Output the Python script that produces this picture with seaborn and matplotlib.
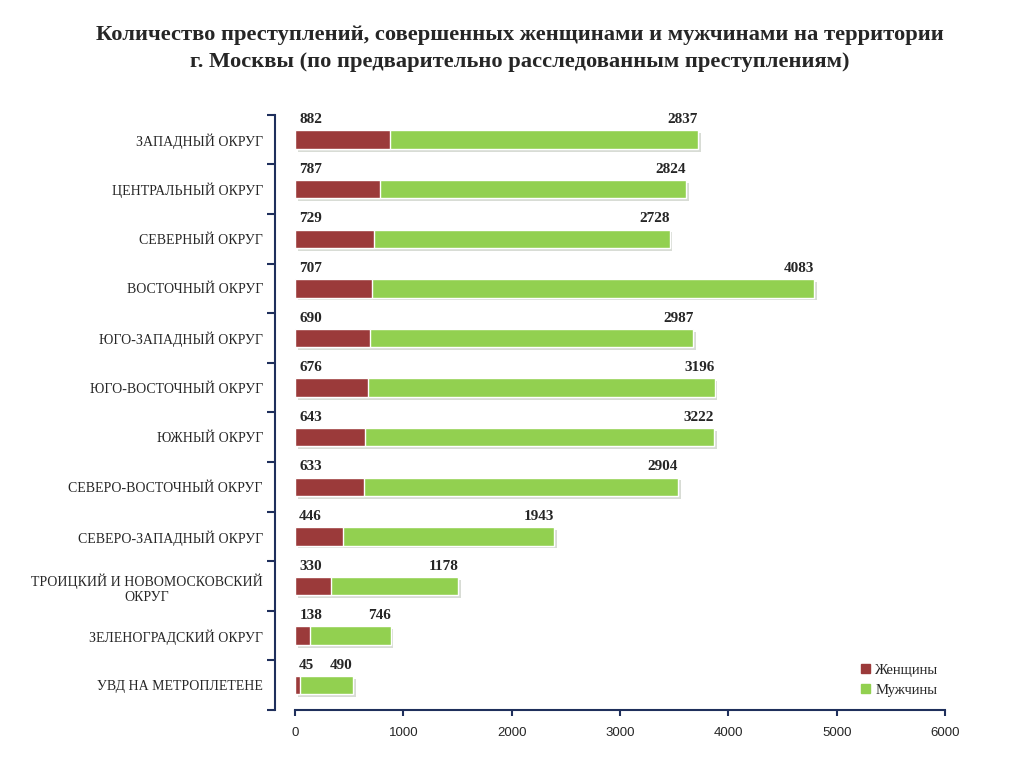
import pandas as pd
import numpy as np
import matplotlib.pyplot as plt
import matplotlib.patheffects as pe
from matplotlib.patches import Patch
import seaborn as sns

districts = [
    "ЗАПАДНЫЙ ОКРУГ",
    "ЦЕНТРАЛЬНЫЙ ОКРУГ",
    "СЕВЕРНЫЙ ОКРУГ",
    "ВОСТОЧНЫЙ ОКРУГ",
    "ЮГО-ЗАПАДНЫЙ ОКРУГ",
    "ЮГО-ВОСТОЧНЫЙ ОКРУГ",
    "ЮЖНЫЙ ОКРУГ",
    "СЕВЕРО-ВОСТОЧНЫЙ ОКРУГ",
    "СЕВЕРО-ЗАПАДНЫЙ ОКРУГ",
    "ТРОИЦКИЙ И НОВОМОСКОВСКИЙ\nОКРУГ",
    "ЗЕЛЕНОГРАДСКИЙ ОКРУГ",
    "УВД НА МЕТРОПЛЕТЕНЕ",
]
women = [882, 787, 729, 707, 690, 676, 643, 633, 446, 330, 138, 45]
men = [2837, 2824, 2728, 4083, 2987, 3196, 3222, 2904, 1943, 1178, 746, 490]

RED = "#9b3a3a"
GREEN = "#92d050"
NAVY = "#1f2f5c"

df = pd.DataFrame({"district": districts, "women": women, "men": men})
df["total"] = df["women"] + df["men"]

sns.set_style("white")
plt.rcParams["font.family"] = ["Liberation Serif", "DejaVu Serif"]

fig = plt.figure(figsize=(10.24, 7.68), dpi=100)
ax = fig.add_axes([0.288, 0.0755, 0.635, 0.775])

sns.barplot(data=df, y="district", x="total", color=GREEN, orient="h",
            width=0.37, ax=ax, saturation=1)
# light drop shadow like the original office chart
for bar in ax.patches:
    bar.set_path_effects([pe.SimplePatchShadow(offset=(2, -2), alpha=0.18), pe.Normal()])
sns.barplot(data=df, y="district", x="women", color=RED, orient="h",
            width=0.37, ax=ax, saturation=1,
            edgecolor="white", linewidth=1)

for i, row in df.iterrows():
    ax.text(40, i - 0.27, str(row["women"]), ha="left", va="bottom",
            fontsize=11, fontweight="bold")
    ax.text(row["total"], i - 0.27, str(row["men"]), ha="right", va="bottom",
            fontsize=11, fontweight="bold")

ax.set_xlim(0, 6000)
ax.set_ylim(len(df) - 0.5, -0.5)
ax.set_xticks(np.arange(0, 6001, 1000))
ax.set_xticklabels([str(v) for v in range(0, 6001, 1000)],
                   family="Liberation Sans", fontsize=9.5)
ax.set_yticks(range(len(df)))
ax.set_yticklabels(districts, fontsize=10.2)
ax.set_xlabel("")
ax.set_ylabel("")
ax.set_yticks(np.arange(-0.5, len(df), 1), minor=True)
ax.tick_params(axis="y", which="major", left=True, length=0, pad=9)
ax.tick_params(axis="y", which="minor", left=True, length=6, width=1.5,
               color=NAVY, direction="out")
ax.tick_params(axis="x", which="major", bottom=True, length=4, width=1.5,
               color=NAVY, direction="out", pad=8)

sns.despine(ax=ax)
ax.spines["left"].set_position(("outward", 14))
ax.spines["left"].set_color(NAVY)
ax.spines["left"].set_linewidth(1.5)
ax.spines["bottom"].set_color(NAVY)
ax.spines["bottom"].set_linewidth(1.5)

handles = [Patch(color=RED), Patch(color=GREEN)]
ax.legend(handles, ["Женщины", "Мужчины"],
          loc="lower right", bbox_to_anchor=(1.01, 0.0), frameon=False,
          fontsize=10.5, handlelength=0.6, handleheight=0.6, handletextpad=0.4)

fig.suptitle("Количество преступлений, совершенных женщинами и мужчинами на территории\n"
             "г. Москвы (по предварительно расследованным преступлениям)",
             x=0.508, y=0.967, fontsize=16.2, fontweight="bold", linespacing=1.45)

fig.canvas.draw()
for lbl in ax.get_yticklabels():
    lbl.set_multialignment("center")

fig.savefig("out.png", dpi=100)
